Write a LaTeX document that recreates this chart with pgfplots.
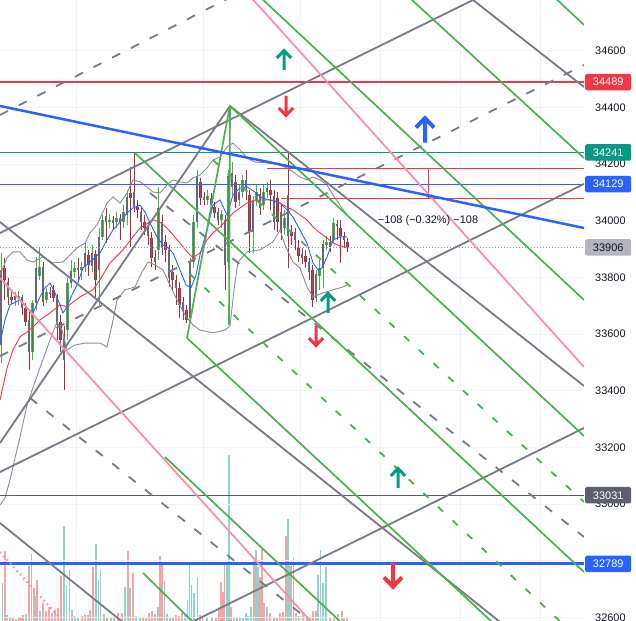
\documentclass[border=0pt]{standalone}
\usepackage{fontspec}
\setmainfont{Liberation Sans}
\usepackage{pgfplots}
\pgfplotsset{compat=1.18}
\usepackage{pgfplotstable}
\usetikzlibrary{arrows.meta}

\definecolor{tvgrey}{HTML}{787B86}
\definecolor{tvgreen}{HTML}{4CAF50}
\definecolor{tvpink}{HTML}{F48FB1}
\definecolor{tvblue}{HTML}{2962FF}
\definecolor{tvred}{HTML}{F23645}
\definecolor{tvteal}{HTML}{089981}
\definecolor{tvdark}{HTML}{5D606B}
\definecolor{tvlight}{HTML}{B2B5BE}
\definecolor{gridc}{HTML}{F0F3FA}
\definecolor{wickg}{HTML}{4CAF50}
\definecolor{wickr}{HTML}{B22833}
\definecolor{bodyc}{HTML}{666975}
\definecolor{volg}{HTML}{8FD2CB}
\definecolor{volr}{HTML}{F5A3A3}
\definecolor{bbc}{HTML}{8A8D97}
\definecolor{txt}{HTML}{131722}
\definecolor{dotc}{HTML}{9598A1}

\pgfdeclareplotmark{tvup}{%
  \pgfpathmoveto{\pgfpoint{0pt}{-\pgfplotmarksize}}%
  \pgfpathlineto{\pgfpoint{0pt}{0.9\pgfplotmarksize}}%
  \pgfpathmoveto{\pgfpoint{-0.72\pgfplotmarksize}{0.2\pgfplotmarksize}}%
  \pgfpathlineto{\pgfpoint{0pt}{0.95\pgfplotmarksize}}%
  \pgfpathlineto{\pgfpoint{0.72\pgfplotmarksize}{0.2\pgfplotmarksize}}%
  \pgfusepathqstroke}
\pgfdeclareplotmark{tvdown}{%
  \pgfpathmoveto{\pgfpoint{0pt}{\pgfplotmarksize}}%
  \pgfpathlineto{\pgfpoint{0pt}{-0.9\pgfplotmarksize}}%
  \pgfpathmoveto{\pgfpoint{-0.72\pgfplotmarksize}{-0.2\pgfplotmarksize}}%
  \pgfpathlineto{\pgfpoint{0pt}{-0.95\pgfplotmarksize}}%
  \pgfpathlineto{\pgfpoint{0.72\pgfplotmarksize}{-0.2\pgfplotmarksize}}%
  \pgfusepathqstroke}

\pgfplotsset{
  gl/.style={tvgrey, line width=1.8bp},
  gd/.style={tvgrey, line width=1.8bp, dash pattern=on 9bp off 12bp},
  grl/.style={tvgreen, line width=1.7bp},
  grd/.style={tvgreen, line width=1.8bp, dash pattern=on 7bp off 13bp},
  pk/.style={tvpink, line width=1.8bp},
}

\pgfplotstableread{
x o h l c
1 33561 33886 33498 33826
15 33720 33749 33699 33735
18.5 33728 33752 33703 33735
32.5 33537 33720 33509 33710
36 33710 33872 33685 33833
39.5 33805 33904 33791 33837
46.5 33720 33763 33710 33749
67.5 33614 33798 33579 33780
71 33780 33861 33763 33823
74.5 33819 33854 33798 33833
81.5 33826 33854 33791 33837
85 33837 33921 33819 33886
92 33840 33914 33819 33886
99 33826 33974 33703 33943
102.5 33943 34020 33932 34003
109.5 33995 34024 33974 34003
116.5 33995 34031 33974 34010
123.5 33995 34055 33974 34031
127 34020 34108 33985 34084
158.5 33897 34119 33861 34045
190 33657 33869 33642 33854
193.5 33854 34020 33833 33995
197 33995 34179 33974 34154
207.5 34073 34108 34055 34087
221.5 34003 34038 33974 34024
228.5 33854 34179 33826 34158
232 34119 34207 34091 34168
239 34073 34126 34052 34101
242.5 34101 34161 34080 34144
253 33960 34087 33886 34073
256.5 34073 34126 34052 34101
263.5 34055 34126 34038 34101
267 34101 34137 34080 34115
284.5 33974 34038 33950 34010
316 33728 33826 33713 33812
319.5 33805 33861 33756 33833
323 33833 33932 33763 33918
326.5 33914 33946 33897 33925
333.5 33932 34010 33921 33992
}\upc

\pgfplotstableread{
x o h l c
4.5 33833 33869 33720 33791
8 33784 33798 33703 33731
11.5 33731 33756 33706 33720
22 33731 33738 33667 33692
25.5 33692 33710 33628 33642
29 33650 33685 33473 33537
43 33837 33854 33699 33713
50 33749 33766 33728 33742
53.5 33756 33773 33713 33728
57 33728 33742 33579 33632
60.5 33642 33667 33537 33579
64 33586 33628 33403 33509
78 33833 33869 33784 33826
88.5 33879 33897 33805 33844
95.5 33883 33897 33731 33791
106 34017 34045 33921 33995
113 34003 34017 33967 33992
120 34010 34024 33932 33995
130.5 34098 34190 33907 34080
134 34101 34239 34031 34048
137.5 34048 34073 34010 34038
141 34031 34045 33967 33995
144.5 33995 34020 33950 33974
148 33974 33995 33914 33946
151.5 33939 33960 33837 33869
155 33872 33897 33826 33854
162 33995 34020 33879 33904
165.5 33925 33950 33854 33897
169 33897 33914 33766 33798
172.5 33819 33844 33756 33791
176 33791 33808 33703 33763
179.5 33763 33784 33657 33703
183 33713 33731 33650 33685
186.5 33685 33703 33639 33650
200.5 34137 34151 34055 34080
204 34084 34101 34055 34073
211 34080 34098 34038 34055
214.5 34048 34066 34010 34027
218 34031 34045 33985 34003
225 34003 34020 33756 33844
235.5 34137 34161 34045 34066
246 34144 34179 34073 34115
249.5 34091 34108 33886 33960
260 34094 34115 34020 34045
270.5 34108 34144 34038 34091
274 34087 34108 33967 33995
277.5 34080 34101 33960 33995
281 34031 34055 33932 33967
288 34091 34239 33833 33946
291.5 33960 33985 33914 33946
295 33960 33974 33897 33932
298.5 33904 33932 33854 33876
302 33883 33904 33847 33869
305.5 33876 33897 33833 33854
309 33854 33869 33791 33819
312.5 33826 33844 33696 33720
330 33925 33946 33890 33907
337 33988 34003 33932 33981
340.5 33974 34003 33851 33946
344 33946 33960 33904 33932
347.5 33925 33939 33890 33906
}\dnc

\begin{document}
\begin{tikzpicture}
% volume pane (own units)
\begin{axis}[scale only axis, width=584bp, height=621bp,
  xmin=0, xmax=584, ymin=0, ymax=621, hide axis]
\addplot[ycomb, volg, line width=1.3bp] coordinates {
(2.5,38) (7,6) (26,7) (31.5,67) (36,25) (40,10) (64,95) (66.5,36) (69.5,51) (75,5) (78,4) (88,6)
(96,77) (98.5,41) (100.5,51) (107,4) (114,4) (125,34) (130,33) (136,5) (140,4) (158,14) (164.5,40)
(167,7) (173,4) (185,6) (187.5,21) (189.5,56) (191.5,36) (194,28) (197.5,44) (207,4) (212,4)
(227,56) (229,166) (234,4) (240,4) (243,4) (246,8) (248,5) (251,14) (256,71) (258,54) (267,14)
(288,102) (290,55) (299,5) (318,46) (320.5,71) (323,38) (326,54) (338,7) (344,3)};
\addplot[ycomb, volr, line width=1.3bp] coordinates {
(5,70) (10,3) (13,3) (16,2) (19,3) (21,4) (23,6) (29,55) (34,33) (37,41) (43,18) (46,10) (49,14)
(52,8) (55,11) (58,13) (61,45) (72,11) (82,5) (85,6) (90,11) (93,54) (104,7) (111,4) (118,8)
(122,8) (128,70) (133,48) (143,4) (146,4) (149,8) (152,10) (155,7) (160,65) (162,56) (170,4)
(176,6) (179,5) (182,8) (200,6) (203,4) (216,4) (219,11) (221,39) (223,29) (224.5,56) (231,14)
(237,4) (254,61) (260,44) (262,72) (264,18) (270,8) (274,4) (277,4) (280,8) (283,9) (286,85)
(291.5,61) (293.5,64) (296,8) (303,8) (307,4) (310,4) (313,10) (316,10) (330,4) (334,4) (342,10) (347,4)};
\end{axis}

\begin{axis}[scale only axis, width=584bp, height=621bp,
  xmin=0, xmax=584, ymin=32587.1, ymax=34778.9,
  axis line style={draw=none},
  major tick length=0pt,
  xtick={76,203,300,380,460,540}, xticklabels={},
  ytick={32600,33000,33200,33400,33600,33800,34000,34200,34400,34600},
  extra y ticks={32800}, extra y tick labels={},
  extra y tick style={grid=major},
  scaled y ticks=false,
  yticklabel pos=right,
  yticklabel style={font=\fontsize{11}{13}\selectfont, text=txt, anchor=west, inner sep=0pt, xshift=11bp},
  /pgf/number format/1000 sep={},
  /pgf/number format/assume math mode=true,
  grid=major, major grid style={gridc, line width=0.8bp},
  clip mode=individual,
]
% candles: wicks
\addplot[draw=none, error bars/.cd, y dir=plus, y explicit, error mark=none,
  error bar style={draw=wickg, line width=0.9bp}]
  table[x=x, y=l, y error expr=\thisrow{h}-\thisrow{l}] {\upc};
\addplot[draw=none, error bars/.cd, y dir=plus, y explicit, error mark=none,
  error bar style={draw=wickr, line width=0.9bp}]
  table[x=x, y=l, y error expr=\thisrow{h}-\thisrow{l}] {\dnc};
% bodies
\addplot[draw=none, error bars/.cd, y dir=plus, y explicit, error mark=none,
  error bar style={draw=wickg, line width=2.8bp}]
  table[x=x, y=o, y error expr=\thisrow{c}-\thisrow{o}] {\upc};
\addplot[draw=none, error bars/.cd, y dir=plus, y explicit, error mark=none,
  error bar style={draw=wickr, line width=2.8bp}]
  table[x=x, y=c, y error expr=\thisrow{o}-\thisrow{c}] {\dnc};
\addplot[draw=none, error bars/.cd, y dir=plus, y explicit, error mark=none,
  error bar style={draw=bodyc, line width=1.6bp}]
  table[x=x, y=o, y error expr=\thisrow{c}-\thisrow{o}] {\upc};
\addplot[draw=none, error bars/.cd, y dir=plus, y explicit, error mark=none,
  error bar style={draw=bodyc, line width=1.6bp}]
  table[x=x, y=c, y error expr=\thisrow{o}-\thisrow{c}] {\dnc};

% Bollinger bands
\addplot[bbc, line width=0.9bp] coordinates {
(0,33808) (7,33869) (13,33890) (20,33890) (27,33861) (33,33854) (43,33872) (53,33851) (63,33854) (70,33879)
(77,33904) (85,33921) (90,33957) (97,33985) (103,34031) (107,34062) (113,34084) (120,34062) (127,34098)
(133,34144) (140,34137) (147,34119) (153,34101) (160,34098) (167,34126) (173,34144) (180,34137) (187,34133)
(193,34151) (200,34161) (207,34186) (213,34214) (220,34225) (227,34260) (233,34274) (240,34250) (247,34221)
(255,34207) (267,34204) (277,34200) (287,34186) (293,34172) (300,34154) (307,34144) (313,34154) (320,34144)
(327,34126) (333,34091) (340,34055) (347,34020)};
\addplot[bbc, line width=0.9bp] coordinates {
(0,32997) (5,33021) (10,33085) (15,33162) (20,33237) (27,33349) (35,33431) (42,33501) (50,33579) (57,33642)
(62,33614) (67,33544) (75,33561) (85,33568) (100,33568) (107,33554) (112,33632) (117,33720) (125,33756)
(135,33766) (142,33819) (148,33854) (155,33844) (163,33826) (170,33773) (177,33720) (185,33667) (193,33632)
(200,33614) (213,33604) (225,33614) (230,33628) (234,33756) (238,33854) (247,33890) (260,33897) (273,33925)
(280,33967) (285,33914) (293,33854) (300,33833) (307,33766) (313,33731) (323,33745) (333,33756) (343,33766) (347,33773)};
% moving averages
\addplot[tvred, line width=0.9bp] coordinates {
(0,33367) (7,33480) (13,33544) (20,33590) (27,33607) (33,33625) (40,33650) (50,33674) (60,33703) (67,33696)
(80,33731) (93,33756) (100,33791) (110,33851) (123,33897) (133,33943) (140,33974) (153,34003) (160,33995)
(167,33974) (173,33950) (180,33921) (187,33890) (193,33869) (200,33886) (207,33932) (213,33957) (220,33978)
(227,34003) (233,34027) (240,34045) (247,34062) (253,34069) (260,34073) (273,34073) (280,34062) (287,34048)
(293,34038) (300,34020) (307,34003) (313,33978) (320,33957) (327,33939) (333,33921) (340,33911) (347,33907)};
\addplot[tvblue, line width=0.9bp] coordinates {
(0,33568) (5,33650) (10,33703) (20,33720) (27,33692) (33,33674) (40,33731) (45,33763) (50,33780) (55,33745)
(60,33703) (63,33674) (67,33696) (72,33738) (77,33773) (83,33833) (90,33854) (100,33886) (107,33932) (113,33967)
(120,33995) (127,34027) (133,34045) (140,34055) (145,34031) (150,33992) (157,33943) (163,33914) (167,33907)
(173,33886) (180,33826) (186,33773) (191,33763) (196,33808) (200,33879) (207,33967) (213,34055) (220,34073)
(227,34020) (233,34091) (240,34115) (247,34119) (255,34101) (262,34080) (270,34073) (280,34062) (287,34038)
(293,34013) (300,33967) (307,33921) (313,33851) (318,33826) (322,33833) (327,33872) (333,33932) (340,33943) (347,33943)};

% horizontal levels
\addplot[tvred, line width=1.6bp] coordinates {(0,34489) (584,34489)};
\addplot[tvteal, line width=1.2bp] coordinates {(0,34241) (584,34241)};
\addplot[tvblue, line width=1bp] coordinates {(0,34129) (584,34129)};
\addplot[tvdark, line width=1.2bp] coordinates {(0,33031) (584,33031)};
\addplot[tvblue, line width=3bp] coordinates {(0,32789) (584,32789)};
\addplot[dotc, line width=0.9bp, dash pattern=on 1bp off 2bp] coordinates {(0,33906) (584,33906)};
% measuring lines
\addplot[tvred, line width=1bp] coordinates {(267,34185) (584,34185)};
\addplot[tvred, line width=1bp] coordinates {(281,34077) (584,34077)};
\addplot[tvred, line width=1bp, -{Straight Barb[length=3bp,width=7bp]}] coordinates {(428.5,34185) (428.5,34079)};

% grey pitchfork lines
\addplot[gl] coordinates {(0,33956.5) (500,34825.8)};
\addplot[gl] coordinates {(460,34814.9) (584,34471.8)};
\addplot[gl] coordinates {(230,34404.8) (584,33416.6)};
\addplot[gl] coordinates {(0,33215.4) (230,34404.8)};
\addplot[gl] coordinates {(0,33995.4) (500,32583.6)};
\addplot[gl] coordinates {(0,32933.0) (125,32576.6)};
\addplot[gl] coordinates {(0,33113.0) (584,34129.5)};
\addplot[gl] coordinates {(184,32569.5) (584,33268.3)};
\addplot[gd] coordinates {(0,34373.0) (260,34842)};
\addplot[gd] coordinates {(0,33522.4) (584,34549.5)};
\addplot[gd] coordinates {(30,33374.2) (315,32573.0)};
\addplot[gd] coordinates {(150,34097.7) (584,32883.6)};
% green lines
\addplot[grl] coordinates {(400,34817.7) (584,34221.3)};
\addplot[grl] coordinates {(550,34803.6) (584,34690.7)};
\addplot[grl] coordinates {(260,34789.5) (584,33720.1)};
\addplot[grl] coordinates {(230,34404.8) (584,33240.1)};
\addplot[grl] coordinates {(135,34238.9) (584,32760.1)};
\addplot[grl] coordinates {(187,33586.0) (492,32583.6)};
\addplot[grl] coordinates {(165,33166.0) (345,32569.5)};
\addplot[grl] coordinates {(143,32756.6) (197,32569.5)};
\addplot[grl] coordinates {(187,33586.0) (230,34408.3)};
\addplot[grl] coordinates {(230,34408.3) (229,33631.8)};
\addplot[grd] coordinates {(190,33811.8) (565,32569.5)};
\addplot[grd] coordinates {(213,34214.2) (584,33007.1)};
% pink lines
\addplot[pk] coordinates {(248,34800.1) (584,33483.6)};
\addplot[pk] coordinates {(0,33797.7) (315,32569.5)};
\addplot[tvpink, line width=2.2bp, dash pattern=on 1.5bp off 3.5bp] coordinates {(0,32830.7) (68,32566)};
% blue trend line
\addplot[tvblue, line width=2.5bp] coordinates {(0,34404.8) (584,33974.2)};

% arrows
\addplot[only marks, mark=tvup, mark size=10bp, mark options={tvteal, line width=3bp}] coordinates {(284,34567) (328,33710) (398,33092)};
\addplot[only marks, mark=tvdown, mark size=10bp, mark options={tvred, line width=3bp}] coordinates {(286,34405) (316,33593)};
\addplot[only marks, mark=tvdown, mark size=12.5bp, mark options={tvred, line width=4bp}] coordinates {(393,32750)};
\addplot[only marks, mark=tvup, mark size=12.5bp, mark options={tvblue, line width=4bp}] coordinates {(425,34320)};

\node[font=\fontsize{11}{13}\selectfont, text=txt] at (axis cs:428,33999) {−108 (−0.32\%) −108};

\coordinate (La) at (axis cs:584,34489);
\coordinate (Lb) at (axis cs:584,34241);
\coordinate (Lc) at (axis cs:584,34129);
\coordinate (Ld) at (axis cs:584,33906);
\coordinate (Le) at (axis cs:584,33031);
\coordinate (Lf) at (axis cs:584,32789);
\end{axis}

\begin{scope}[every node/.style={anchor=west, xshift=1bp, minimum width=46bp, minimum height=16.5bp, inner sep=0pt, rounded corners=1.5bp, font=\fontsize{11}{13}\selectfont}]
\node[fill=tvred, text=white] at (La) {34489};
\node[fill=tvteal, text=white] at (Lb) {34241};
\node[fill=tvblue, text=white] at (Lc) {34129};
\node[fill=tvlight, text=txt] at (Ld) {33906};
\node[fill=tvdark, text=white] at (Le) {33031};
\node[fill=tvblue, text=white] at (Lf) {32789};
\end{scope}

\pgfresetboundingbox
\path[use as bounding box] (0,0) rectangle (636bp,621bp);
\end{tikzpicture}
\end{document}
